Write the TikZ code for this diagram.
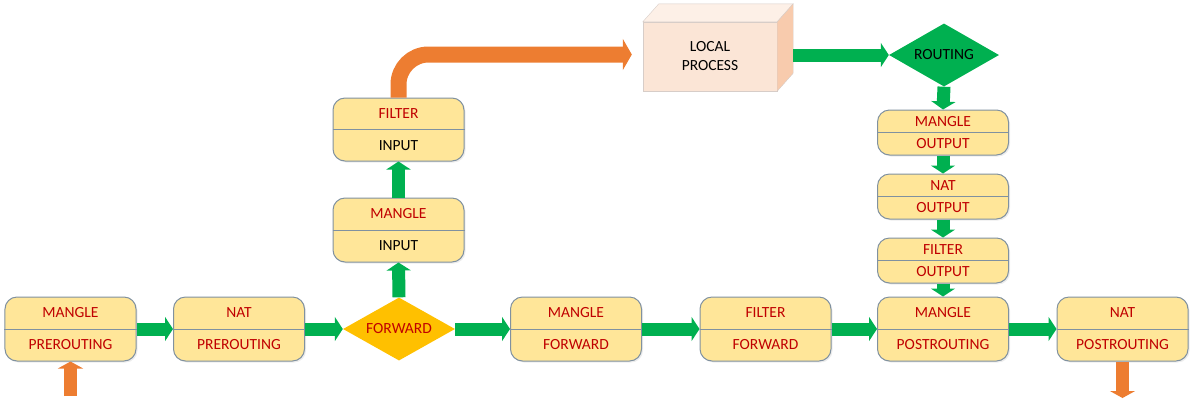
\documentclass[tikz,border=0pt]{standalone}
\usepackage{fontspec}
\setmainfont{Carlito}
\usetikzlibrary{arrows.meta,shapes.geometric,calc,shadows}
\definecolor{grn}{RGB}{0,176,80}
\definecolor{org}{RGB}{237,125,49}
\definecolor{fwdc}{RGB}{255,192,0}
\definecolor{txtred}{RGB}{192,0,0}
\definecolor{boxfill}{RGB}{255,230,153}
\definecolor{bordc}{RGB}{128,145,160}
\definecolor{lpfront}{RGB}{251,229,214}
\definecolor{lpside}{RGB}{248,203,173}
\definecolor{lptop}{RGB}{253,240,231}
\definecolor{lpline}{RGB}{215,205,200}
\newcommand\stagebox[7]{% name, x, y, h, top, bottom, bottom colour
  \node[stage, minimum height=#4bp] (#1) at (#2,#3) {};
  \draw[divline] (#1.west) -- (#1.east);
  \node[lbl] (#1-t) at ($(#1.center)+(0,-#4/4)$) {#5};
  \node[lbl, text=#7] (#1-b) at ($(#1.center)+(0,#4/4)$) {#6};
}
\begin{document}
\begin{tikzpicture}[x=1bp,y=-1bp,
  stage/.style={draw=bordc, fill=boxfill, rounded corners=12bp, minimum width=131bp,
    line width=1bp, inner sep=0pt,
    drop shadow={opacity=0.15, shadow xshift=1.5bp, shadow yshift=-1.5bp}},
  divline/.style={draw=bordc, line width=1bp},
  lbl/.style={font=\fontsize{15.5bp}{18bp}\selectfont, text=txtred, inner sep=0pt, anchor=center},
  garrow/.style={draw=grn, line width=13bp, -{Triangle[width=24bp,length=8bp]}},
  oarrow/.style={draw=org, line width=13bp, -{Triangle[width=25bp,length=7bp]}},
  bigarrow/.style={draw=org, line width=16bp, rounded corners=30bp, -{Triangle[width=31bp,length=9bp]}},
  dmd/.style={diamond, aspect=1.78, inner sep=0pt, font=\fontsize{15.5bp}{18bp}\selectfont}]
\useasboundingbox (0,0) rectangle (1192,401);

% main row
\stagebox{mpre}{70.5}{329}{64}{MANGLE}{PREROUTING}{txtred}
\stagebox{npre}{239}{329}{64}{NAT}{PREROUTING}{txtred}
\node[dmd, fill=fwdc, minimum width=112bp, minimum height=63bp, text=txtred] (fwd) at (399,329) {FORWARD};
\stagebox{mfwd}{576}{329}{64}{MANGLE}{FORWARD}{txtred}
\stagebox{ffwd}{765.5}{329}{64}{FILTER}{FORWARD}{txtred}
\stagebox{mpost}{943}{329}{64}{MANGLE}{POSTROUTING}{txtred}
\stagebox{npost}{1122.5}{329}{64}{NAT}{POSTROUTING}{txtred}

% input column
\stagebox{minp}{398.5}{230}{64}{MANGLE}{INPUT}{black}
\stagebox{finp}{398.5}{129.5}{63}{FILTER}{INPUT}{black}

% output column
\stagebox{mout}{943}{132.5}{45}{MANGLE}{OUTPUT}{txtred}
\stagebox{nout}{943}{196.5}{45}{NAT}{OUTPUT}{txtred}
\stagebox{fout}{943}{260.5}{45}{FILTER}{OUTPUT}{txtred}

% routing
\node[dmd, fill=grn, minimum width=110bp, minimum height=63bp, text=black] (rt) at (944,55) {ROUTING};

% local process (3D box)
\node[draw=lpline, fill=lpfront, minimum width=134bp, minimum height=69bp, inner sep=0pt,
  align=center, font=\fontsize{15.5bp}{19bp}\selectfont] (lp) at (710,56.5) {LOCAL\\PROCESS};
\draw[draw=lpline, fill=lptop] (lp.north west) -- ++(16,-18) -- ($(lp.north east)+(16,-18)$) -- (lp.north east) -- cycle;
\draw[draw=lpline, fill=lpside] (lp.north east) -- ++(16,-18) -- ($(lp.south east)+(16,-18)$) -- (lp.south east) -- cycle;

% connectors
\draw[garrow] (mpre.east) -- (npre.west);
\draw[garrow] (npre.east) -- (fwd.west);
\draw[garrow] (fwd.east) -- (mfwd.west);
\draw[garrow] (mfwd.east) -- (ffwd.west);
\draw[garrow] (ffwd.east) -- (mpost.west);
\draw[garrow] (mpost.east) -- (npost.west);
\draw[garrow] (fwd.north) -- (minp.south);
\draw[garrow] (minp.north) -- (finp.south);
\draw[bigarrow] (finp.north) |- ($(lp.west)+(-11,-2)$);
\draw[garrow] ($(lp.east |- rt.west)+(16,0)$) -- (rt.west);
\draw[garrow] (rt.south) -- (mout.north);
\draw[garrow] (mout.south) -- (nout.north);
\draw[garrow] (nout.south) -- (fout.north);
\draw[garrow] (fout.south) -- (mpost.north);

\coordinate (pin) at (70.5,396);
\coordinate (pout) at (1122.5,398);
\draw[oarrow] (pin) -- (mpre.south);
\draw[oarrow] (npost.south) -- (pout);
\end{tikzpicture}
\end{document}
